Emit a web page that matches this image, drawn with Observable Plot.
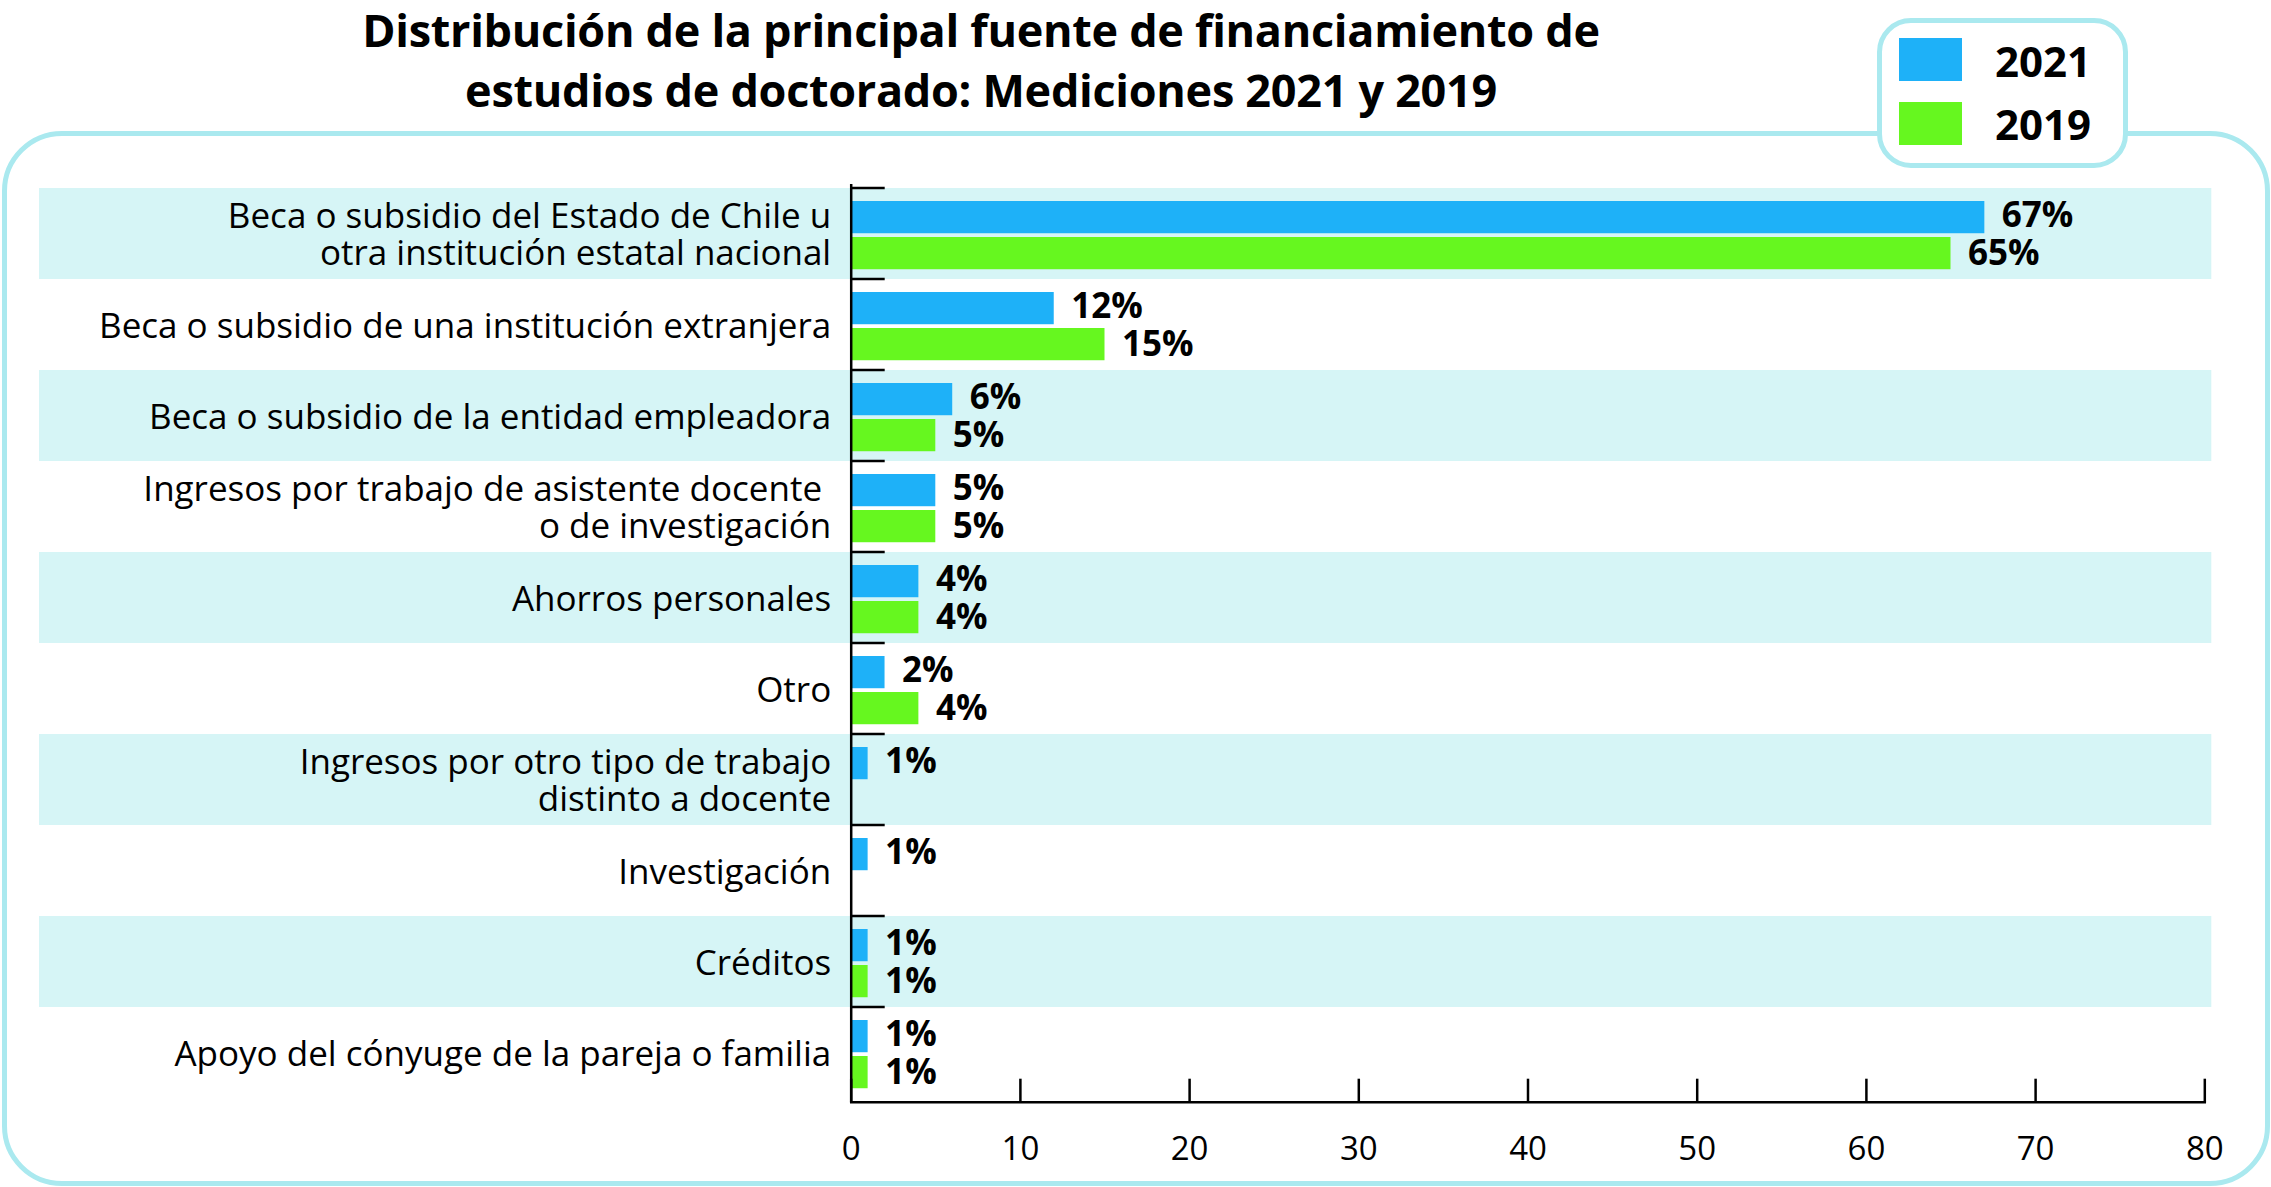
<!DOCTYPE html>
<html>
<head>
<meta charset="utf-8">
<script src="https://cdn.jsdelivr.net/npm/d3@7"></script>
<script src="https://cdn.jsdelivr.net/npm/@observablehq/plot@0.6"></script>
<style>
  html, body { margin: 0; padding: 0; background: #ffffff; }
  #wrap { position: relative; width: 2271px; height: 1187px; overflow: hidden; font-family: "Open Sans", sans-serif; }
  #outer { position: absolute; left: 2px; top: 131px; width: 2258px; height: 1045px; border: 5px solid #aae9ef; border-radius: 60px; box-sizing: content-box; }
  #title { position: absolute; left: 0; width: 1962px; top: 0px; text-align: center; font-weight: 700; font-size: 45px; line-height: 60px; color: #000; letter-spacing: -0.3px; }
  #legend { position: absolute; left: 1877px; top: 18px; width: 241px; height: 140px; border: 5px solid #aae9ef; border-radius: 34px; background: #fff; }
  .sw { position: absolute; left: 17px; width: 63px; height: 43px; }
  .lb { position: absolute; left: 113px; font-weight: 700; font-size: 42px; line-height: 43px; color: #000; }
  #chart { position: absolute; left: 0; top: 0; }
</style>
</head>
<body>
<div id="wrap">
  <div id="outer"></div>
  <div id="title">Distribución de la principal fuente de financiamiento de<br>estudios de doctorado: Mediciones 2021 y 2019</div>
  <div id="legend"></div>
  <div id="chart"></div>
</div>
<script>
const categories = [
  "Beca o subsidio del Estado de Chile u\notra institución estatal nacional",
  "Beca o subsidio de una institución extranjera",
  "Beca o subsidio de la entidad empleadora",
  "Ingresos por trabajo de asistente docente \no de investigación",
  "Ahorros personales",
  "Otro",
  "Ingresos por otro tipo de trabajo\ndistinto a docente",
  "Investigación",
  "Créditos",
  "Apoyo del cónyuge de la pareja o familia"
];
const values2021 = [67, 12, 6, 5, 4, 2, 1, 1, 1, 1];
const values2019 = [65, 15, 5, 5, 4, 4, null, null, 1, 1];
const seriesNames = ["2021", "2019"];
const seriesColors = ["#1eb1f8", "#66f71f"];
const xTicks = [0, 10, 20, 30, 40, 50, 60, 70, 80];
const xDomain = [0, 80];

const W = 2271, H = 1187;
const mTop = 184, mBottom = 85.3, mLeft = 850.7, mRight = 66.7;
const bw = (H - mTop - mBottom) / categories.length;
const bandColor = "#d6f5f6";

const rows = categories.map((c, i) => ({cat: c, v2021: values2021[i], v2019: values2019[i]}));
const r21 = rows.filter(d => d.v2021 != null);
const r19 = rows.filter(d => d.v2019 != null);
const shaded = categories.filter((c, i) => i % 2 === 0);

// legend
const legend = document.getElementById("legend");
seriesNames.forEach((s, i) => {
  const sw = document.createElement("div");
  sw.className = "sw";
  sw.style.top = (15 + i * 64) + "px";
  sw.style.background = seriesColors[i];
  legend.appendChild(sw);
  const lb = document.createElement("div");
  lb.className = "lb";
  lb.style.top = (16 + i * 63) + "px";
  lb.textContent = s;
  legend.appendChild(lb);
});

const chart = Plot.plot({
  width: W,
  height: H,
  marginTop: mTop,
  marginBottom: mBottom,
  marginLeft: mLeft,
  marginRight: mRight,
  style: {background: "transparent", fontFamily: "'Open Sans', sans-serif", color: "#000", overflow: "visible"},
  x: {domain: xDomain, axis: null},
  y: {domain: categories, padding: 0, axis: null},
  marks: [
    Plot.barX(shaded, {y: d => d, x1: xDomain[0], x2: xDomain[1], fill: bandColor, insetLeft: -(mLeft - 39), insetRight: -7}),
    Plot.barX(r21, {y: "cat", x: "v2021", fill: seriesColors[0], insetTop: 13, insetBottom: bw - 46}),
    Plot.barX(r19, {y: "cat", x: "v2019", fill: seriesColors[1], insetTop: 49, insetBottom: bw - 82}),
    Plot.text(r21, {y: "cat", x: "v2021", text: d => d.v2021 + "%", textAnchor: "start", dx: 17, dy: -18, fontWeight: 700, fontSize: 35, fill: "#000"}),
    Plot.text(r19, {y: "cat", x: "v2019", text: d => d.v2019 + "%", textAnchor: "start", dx: 17, dy: 20, fontWeight: 700, fontSize: 35, fill: "#000"}),
    Plot.text(categories, {y: d => d, frameAnchor: "left", textAnchor: "end", dx: -20, dy: 1, fontSize: 35, lineHeight: 1.06, fill: "#000"}),
    Plot.ruleX([xDomain[0]], {stroke: "#000", strokeWidth: 2.5}),
    Plot.axisY({tickSize: -34, fill: "none", dy: -bw / 2, stroke: "#000", strokeWidth: 2.5}),
    Plot.frame({anchor: "bottom", stroke: "#000", strokeWidth: 2.5}),
    Plot.axisX({ticks: xTicks, tickSize: -23, fill: "none", stroke: "#000", strokeWidth: 2.5}),
    Plot.axisX({ticks: xTicks, tickSize: 0, tickPadding: 34, fontSize: 33, tickFormat: d => String(d), fill: "#000"})
  ]
});
document.getElementById("chart").appendChild(chart);
</script>
</body>
</html>
